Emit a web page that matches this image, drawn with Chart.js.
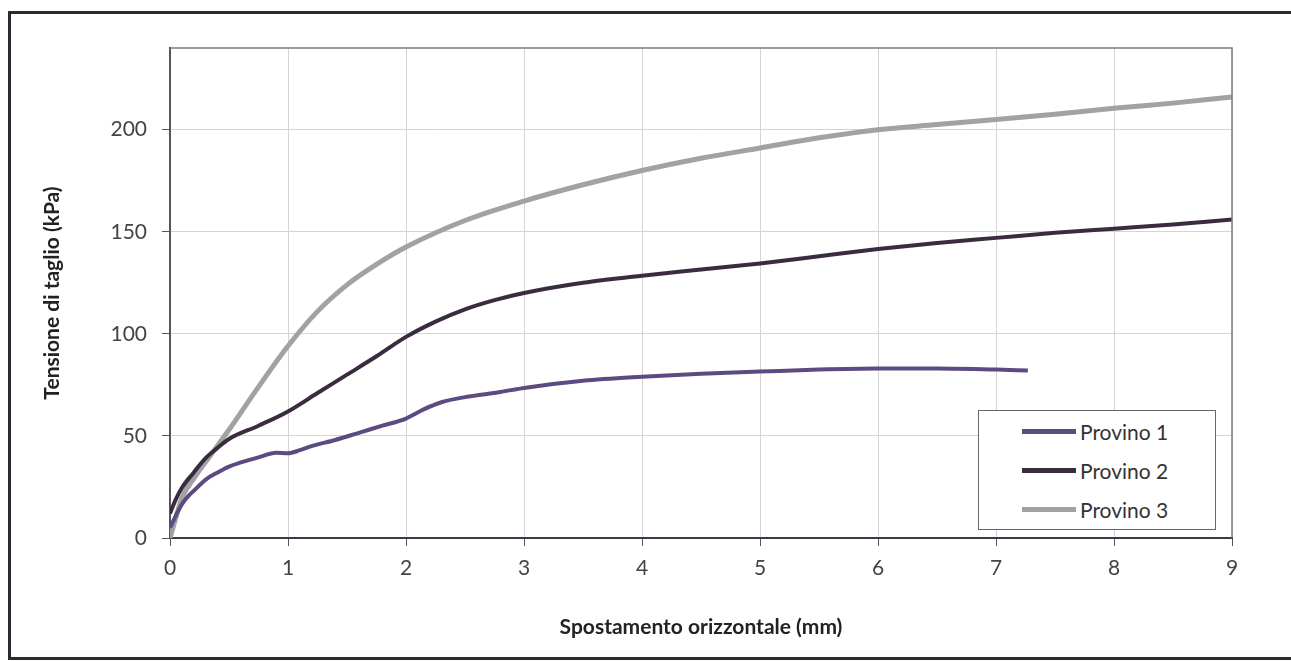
<!DOCTYPE html>
<html>
<head>
<meta charset="utf-8">
<script src="https://cdn.jsdelivr.net/npm/chart.js@4/dist/chart.umd.min.js"></script>
<style>
  body { margin: 0; background: #fff; }
  #wrap { position: relative; width: 1291px; height: 661px; overflow: hidden; background: #fff; }
  #frame { position: absolute; left: 8px; top: 11px; width: 1300px; height: 643px; border: 3px solid #2a2a35; }
  canvas { position: absolute; left: 0; top: 0; }
  #legend { position: absolute; left: 978px; top: 410px; width: 238px; height: 120px; border: 1px solid #666; background: #fff;
            font-family: Lato, "Open Sans", sans-serif; font-size: 21px; color: #333; box-sizing: border-box; }
  .row { position: absolute; left: 43px; height: 26px; display: flex; align-items: center; }
  .swatch { width: 54px; height: 5px; margin-right: 4px; }
</style>
</head>
<body>
<div id="wrap">
  <div id="frame"></div>
  <canvas id="myChart" width="1291" height="661"></canvas>
  <div id="legend"></div>
</div>
<script>
// Prova di taglio diretto: tensione di taglio vs spostamento orizzontale
const seriesNames = ['Provino 1', 'Provino 2', 'Provino 3'];
const seriesColors = ['#5b4b80', '#3b2b3e', '#a2a2a4'];
const seriesWidths = [4, 4, 5];

const x1 = [0, 0.05, 0.1, 0.17, 0.2, 0.3, 0.4, 0.5, 0.6, 0.75, 0.9, 1.0, 1.1, 1.2, 1.4, 1.6, 1.8, 2.0, 2.05, 2.15, 2.3, 2.5, 2.8, 3.0, 3.5, 4.0, 4.5, 5.0, 5.5, 6.0, 6.5, 7.0, 7.27];
const y1 = [5, 11, 16.5, 21.5, 23, 28.5, 32, 35, 37, 39.5, 41.7, 41.5, 43, 45, 48, 51.5, 55, 58.5, 60, 63, 66.5, 69, 71.5, 73.5, 77, 79, 80.5, 81.5, 82.5, 83, 83, 82.5, 82];

const x2 = [0, 0.05, 0.1, 0.2, 0.3, 0.4, 0.5, 0.75, 1.0, 1.25, 1.5, 1.75, 2.0, 2.25, 2.5, 2.75, 3.0, 3.5, 4.0, 4.5, 5.0, 5.5, 6.0, 6.5, 7.0, 7.5, 8.0, 8.5, 9.0];
const y2 = [12, 19, 24.5, 32, 39, 44, 48.5, 55, 62, 71, 80, 89, 98.5, 106, 112, 116.5, 120, 125, 128.5, 131.5, 134.5, 138, 141.5, 144.5, 147, 149.5, 151.5, 153.5, 156];

const x3 = [0, 0.05, 0.1, 0.2, 0.35, 0.5, 0.75, 1.0, 1.25, 1.5, 1.75, 2.0, 2.5, 3.0, 3.5, 4.0, 4.5, 5.0, 5.5, 6.0, 6.5, 7.0, 7.5, 8.0, 8.5, 9.0];
const y3 = [0, 10, 19.5, 29, 41, 53, 74, 94, 111, 124, 134, 142.5, 155.5, 165, 173, 180, 186, 191, 196, 200, 202.5, 205, 207.5, 210.5, 213, 216];

const xTicks = [0, 1, 2, 3, 4, 5, 6, 7, 8, 9];
const yTicks = [0, 50, 100, 150, 200];

function toPoints(xs, ys) {
    return xs.map((x, i) => ({ x: x, y: ys[i] }));
}

const allX = [x1, x2, x3];
const allY = [y1, y2, y3];

const datasets = seriesNames.map((name, i) => ({
    label: name,
    data: toPoints(allX[i], allY[i]),
    borderColor: seriesColors[i],
    backgroundColor: seriesColors[i],
    borderWidth: seriesWidths[i],
    showLine: true,
    pointRadius: 0,
    cubicInterpolationMode: 'monotone'
}));

// bordo superiore e destro dell'area del grafico
const plotBorder = {
    id: 'plotBorder',
    afterDraw(chart) {
        const { ctx, chartArea } = chart;
        ctx.save();
        ctx.strokeStyle = '#7a7a80';
        ctx.lineWidth = 1.5;
        ctx.beginPath();
        ctx.moveTo(chartArea.left, chartArea.top);
        ctx.lineTo(chartArea.right, chartArea.top);
        ctx.lineTo(chartArea.right, chartArea.bottom);
        ctx.stroke();
        ctx.restore();
    }
};

const tickFont = { family: 'Lato, "Open Sans", sans-serif', size: 21 };
const titleFont = { family: 'Lato, "Open Sans", sans-serif', size: 21, weight: 'bold' };

const chart = new Chart(document.getElementById('myChart'), {
    type: 'scatter',
    data: { datasets: datasets },
    options: {
        responsive: false,
        animation: false,
        layout: { padding: { left: 0, right: 59, top: 48, bottom: 0 } },
        plugins: { legend: { display: false }, tooltip: { enabled: false } },
        scales: {
            x: {
                type: 'linear',
                min: 0,
                max: 9,
                afterBuildTicks: s => { s.ticks = xTicks.map(v => ({ value: v })); },
                afterFit: s => { s.height = 123; },
                ticks: { font: tickFont, color: '#444', padding: 10 },
                grid: { color: '#d4d4d8', tickColor: '#555', tickLength: 8, lineWidth: 1 },
                border: { color: '#3a3a48', width: 2 },
                title: { display: true, text: 'Spostamento orizzontale (mm)', font: titleFont, color: '#222', padding: { top: 0, bottom: 21 } }
            },
            y: {
                type: 'linear',
                min: 0,
                max: 240,
                afterBuildTicks: s => { s.ticks = yTicks.map(v => ({ value: v })); },
                afterFit: s => { s.width = 170; },
                ticks: { font: tickFont, color: '#444', padding: 15 },
                grid: { color: '#d4d4d8', tickColor: '#555', tickLength: 8, lineWidth: 1 },
                border: { color: '#55555f', width: 2 },
                title: { display: true, text: 'Tensione di taglio (kPa)', font: titleFont, color: '#222', padding: { top: 40, bottom: 0 } }
            }
        }
    },
    plugins: [plotBorder]
});

// legenda interna costruita dai dataset
const legend = document.getElementById('legend');
const rowTops = [7, 46, 85];
chart.data.datasets.forEach((ds, i) => {
    const row = document.createElement('div');
    row.className = 'row';
    row.style.top = rowTops[i] + 'px';
    const sw = document.createElement('span');
    sw.className = 'swatch';
    sw.style.background = ds.borderColor;
    const label = document.createElement('span');
    label.textContent = ds.label;
    row.appendChild(sw);
    row.appendChild(label);
    legend.appendChild(row);
});
</script>
</body>
</html>
